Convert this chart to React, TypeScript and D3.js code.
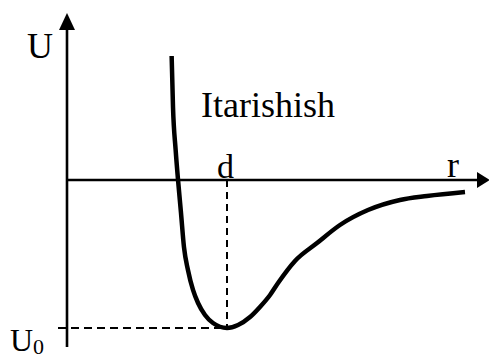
import React from "react";
import * as d3 from "d3";

// Potential curve U(r), in units where d = 1 and U0 = -1
const rValues = [0.654, 0.6625, 0.679, 0.694, 0.7125, 0.731, 0.756, 0.7875, 0.819, 0.8625, 0.9125, 1.0, 1.069, 1.144, 1.206, 1.269, 1.319, 1.425, 1.5625, 1.706, 1.881, 2.081, 2.25, 2.4875];
const uValues = [0.838, 0.493, 0.203, 0.0, -0.223, -0.453, -0.608, -0.743, -0.831, -0.912, -0.966, -1.0, -0.98, -0.926, -0.858, -0.777, -0.696, -0.547, -0.426, -0.304, -0.203, -0.135, -0.108, -0.081];
const dValue = 1;
const u0Value = -1;
const labels = { u: "U", r: "r", d: "d", title: "Itarishish", u0: "U", u0sub: "0" };

const W = 489;
const H = 356;

export default function App() {
  const x = d3.scaleLinear().domain([0, 1]).range([67, 227]);
  const y = d3.scaleLinear().domain([0, -1]).range([180, 328]);
  const pts: [number, number][] = rValues.map((r, i) => [r, uValues[i]]);
  const line = d3
    .line<[number, number]>()
    .x((p) => x(p[0]))
    .y((p) => y(p[1]))
    .curve(d3.curveMonotoneX);

  const x0 = x(0);
  const y0 = y(0);
  const font = "'Liberation Serif', 'Times New Roman', serif";

  return (
    <svg width={W} height={H} style={{ position: "absolute", left: 0, top: 0 }} xmlns="http://www.w3.org/2000/svg">
      <rect width={W} height={H} fill="#fff" />
      {/* y axis */}
      <line x1={x0} y1={347} x2={x0} y2={28} stroke="#000" strokeWidth={2.6} />
      <path d={`M${x0},13 L${x0 - 8},30 L${x0 + 8},30 Z`} fill="#000" />
      {/* x axis */}
      <line x1={x0} y1={y0} x2={479} y2={y0} stroke="#000" strokeWidth={2.6} />
      <path d={`M490,${y0} L477,${y0 - 8} L477,${y0 + 8} Z`} fill="#000" />
      {/* dashed guides */}
      <line x1={x(dValue)} y1={y0} x2={x(dValue)} y2={y(u0Value)} stroke="#000" strokeWidth={2} strokeDasharray="7,5" />
      <line x1={58} y1={y(u0Value)} x2={x(dValue)} y2={y(u0Value)} stroke="#000" strokeWidth={2} strokeDasharray="8,5" />
      {/* curve */}
      <path d={line(pts) || ""} fill="none" stroke="#000" strokeWidth={4.5} strokeLinecap="butt" />
      {/* labels */}
      <text x={27} y={58} fontFamily={font} fontSize={36}>{labels.u}</text>
      <text x={201} y={117} fontFamily={font} fontSize={36}>{labels.title}</text>
      <text x={217} y={178} fontFamily={font} fontSize={34}>{labels.d}</text>
      <text x={447} y={177} fontFamily={font} fontSize={36}>{labels.r}</text>
      <text x={10} y={351} fontFamily={font} fontSize={32}>
        {labels.u0}
        <tspan fontSize={22} dy={3}>{labels.u0sub}</tspan>
      </text>
    </svg>
  );
}
